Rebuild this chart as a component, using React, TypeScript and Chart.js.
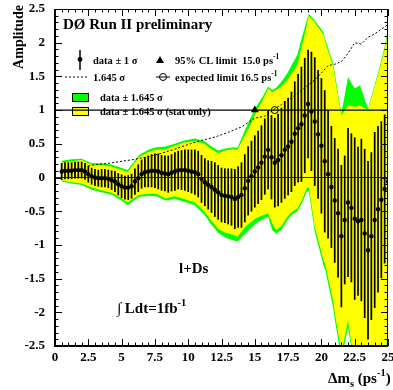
import React, { useEffect, useRef } from "react";
import { Chart, registerables } from "chart.js";

Chart.register(...registerables);

// ---- data ----
const dms = [0.5,0.75,1,1.25,1.5,1.75,2,2.25,2.5,2.75,3,3.25,3.5,3.75,4,4.25,4.5,4.75,5,5.25,5.5,5.75,6,6.25,6.5,6.75,7,7.25,7.5,7.75,8,8.25,8.5,8.75,9,9.25,9.5,9.75,10,10.25,10.5,10.75,11,11.25,11.5,11.75,12,12.25,12.5,12.75,13,13.25,13.5,13.75,14,14.25,14.5,14.75,15,15.25,15.5,15.75,16,16.25,16.5,16.75,17,17.25,17.5,17.75,18,18.25,18.5,18.75,19,19.25,19.5,19.75,20,20.25,20.5,20.75,21,21.25,21.5,21.75,22,22.25,22.5,22.75,23,23.25,23.5,23.75,24,24.25,24.5,24.75,25];

const amplitude = [0.09,0.10,0.10,0.10,0.11,0.11,0.11,0.09,0.05,0.02,
  0.00,-0.01,-0.01,-0.01,-0.02,-0.04,-0.06,-0.10,-0.13,-0.15,-0.15,-0.13,
  -0.06,-0.01,0.05,0.08,0.09,0.10,0.10,0.09,0.07,0.06,0.05,0.07,
  0.09,0.11,0.11,0.11,0.10,0.09,0.08,0.05,-0.02,-0.07,-0.11,-0.14,
  -0.18,-0.22,-0.26,-0.27,-0.28,-0.29,-0.32,-0.29,-0.26,-0.16,-0.05,0.02,
  0.09,0.15,0.22,0.31,0.41,0.30,0.22,0.26,0.33,0.41,0.46,0.53,
  0.65,0.73,0.79,0.92,1.09,0.98,0.83,0.64,0.47,0.24,0.05,-0.14,
  -0.34,-0.53,-0.87,-0.63,-0.37,-0.45,-0.61,-0.65,-0.63,-0.83,-1.08,-0.87,
  -0.63,-0.47,-0.33,-0.17,-0.06];

const sigma = [0.12,0.12,0.12,0.12,0.12,0.12,0.12,0.12,0.12,0.12,
  0.12,0.12,0.13,0.13,0.13,0.14,0.15,0.16,0.17,0.17,0.18,0.18,
  0.19,0.20,0.21,0.22,0.23,0.24,0.25,0.26,0.26,0.26,0.27,0.27,
  0.28,0.28,0.29,0.30,0.31,0.32,0.33,0.34,0.35,0.35,0.36,0.38,
  0.40,0.40,0.40,0.40,0.41,0.42,0.44,0.45,0.48,0.50,0.51,0.52,
  0.53,0.54,0.55,0.56,0.58,0.62,0.66,0.68,0.70,0.72,0.72,0.74,
  0.77,0.80,0.85,0.85,0.80,0.88,0.95,0.95,1.00,1.05,0.95,0.90,
  0.92,0.95,1.05,0.95,1.10,1.10,1.20,1.10,1.20,1.25,1.32,1.24,
  1.30,1.23,1.16,1.10,1.05];

const bandX = [0.5,1.25,2,2.75,3.5,4.3,5,5.45,6.3,7,7.6,8.3,9,9.7,10.5,11.2,11.75,12.25,12.8,13.35,13.7,14,14.3,14.6,15.1,15.6,16,16.3,16.6,17,17.45,17.8,18.2,18.55,18.9,19.05,19.5,20.15,20.3,20.9,21,21.5,22,22.5,22.9,23.5,24.35,24.75,25];
const yellowHi = [0.22,0.24,0.26,0.19,0.18,0.16,0.11,0.08,0.30,0.38,0.41,0.42,0.47,0.52,0.54,0.50,0.42,0.36,0.40,0.42,0.41,0.53,0.64,0.75,0.97,1.15,1.32,1.27,1.30,1.35,1.45,1.55,1.67,1.96,2.25,2.40,2.30,2.12,2.00,1.64,1.50,0.92,1.07,1.05,1.07,1.00,1.59,1.90,2.15];
const greenHi = [0.25,0.27,0.28,0.21,0.21,0.19,0.14,0.11,0.33,0.41,0.45,0.46,0.50,0.55,0.58,0.54,0.46,0.40,0.43,0.45,0.44,0.58,0.72,0.85,1.05,1.20,1.35,1.30,1.33,1.42,1.55,1.68,1.82,2.09,2.33,2.43,2.33,2.16,2.04,1.68,1.55,0.95,1.49,1.32,1.37,1.02,1.62,1.94,2.22];
const yellowLo = [-0.04,-0.07,-0.09,-0.15,-0.19,-0.23,-0.31,-0.37,-0.26,-0.24,-0.24,-0.31,-0.28,-0.32,-0.37,-0.50,-0.64,-0.76,-0.82,-0.85,-0.88,-0.80,-0.73,-0.68,-0.60,-0.56,-0.53,-0.68,-0.78,-0.72,-0.58,-0.51,-0.46,-0.33,-0.16,-0.14,-0.73,-1.22,-1.30,-1.85,-2.00,-2.60,-2.12,-2.80,-2.90,-2.90,-2.90,-2.70,-2.26];
const greenLo = [-0.06,-0.09,-0.11,-0.18,-0.22,-0.26,-0.34,-0.41,-0.29,-0.27,-0.28,-0.34,-0.32,-0.36,-0.41,-0.55,-0.70,-0.82,-0.89,-0.93,-0.95,-0.89,-0.83,-0.77,-0.68,-0.62,-0.58,-0.78,-0.83,-0.78,-0.63,-0.55,-0.50,-0.38,-0.21,-0.20,-0.80,-1.30,-1.38,-1.95,-2.10,-2.70,-2.22,-2.85,-2.95,-2.95,-2.95,-2.75,-2.30];

const sensX = [2.5,3,4,5,6,7,8,9,10,11,12,13,14,15,15.75,16.5,17,17.5,18,18.5,19,19.5,20,20.5,21,21.5,22,22.5,23,23.5,24,24.5,25];
const sensY = [0.17,0.19,0.21,0.24,0.27,0.31,0.36,0.42,0.49,0.55,0.60,0.67,0.75,0.88,0.91,1.02,1.08,1.15,1.22,1.29,1.37,1.45,1.55,1.66,1.68,1.72,1.84,2.00,1.98,2.08,2.13,2.20,2.27];

const limit95 = 15.0;
const expectedLimit = 16.5;
const limitAmplitude = 1;

const xTicks = [0, 2.5, 5, 7.5, 10, 12.5, 15, 17.5, 20, 22.5, 25];
const xTickLabels = ["0", "2.5", "5", "7.5", "10", "12.5", "15", "17.5", "20", "22.5", "25"];
const yTicks = [2.5, 2, 1.5, 1, 0.5, 0, -0.5, -1, -1.5, -2, -2.5];
const yTickLabels = ["2.5", "2", "1.5", "1", "0.5", "0", "-0.5", "-1", "-1.5", "-2", "-2.5"];

const X_MIN = 0, X_MAX = 25, Y_MIN = -2.5, Y_MAX = 2.5;

const SERIF = "'Liberation Serif', 'Times New Roman', serif";
const GREEN = "#00ff00";
const YELLOW = "#ffff00";

type Part = [string, "n" | "sup" | "sub"];

function rich(ctx: CanvasRenderingContext2D, x: number, y: number, parts: Part[], size: number) {
  let cx = x;
  ctx.textAlign = "left";
  ctx.textBaseline = "alphabetic";
  for (const [t, k] of parts) {
    const s = k === "n" ? size : size * 0.7;
    ctx.font = `bold ${s}px ${SERIF}`;
    const dy = k === "sup" ? -size * 0.45 : k === "sub" ? size * 0.25 : 0;
    ctx.fillText(t, cx, y + dy);
    cx += ctx.measureText(t).width;
  }
}

const decor = {
  id: "decor",
  beforeDatasetsDraw(chart: any) {
    const ctx: CanvasRenderingContext2D = chart.ctx;
    ctx.save();
    ctx.fillStyle = "#000";
    ctx.strokeStyle = "#000";
    rich(ctx, 63, 29, [["D\u00D8 Run II preliminary", "n"]], 15);
    ctx.lineWidth = 1.5;
    ctx.beginPath(); ctx.moveTo(80, 50); ctx.lineTo(80, 70); ctx.stroke();
    ctx.beginPath(); ctx.arc(80, 59.5, 2.4, 0, Math.PI * 2); ctx.fill();
    rich(ctx, 93, 63.5, [["data \u00B1 1 \u03C3", "n"]], 10.5);
    ctx.lineWidth = 1;
    ctx.setLineDash([2, 2]);
    ctx.beginPath(); ctx.moveTo(65, 77); ctx.lineTo(88, 77); ctx.stroke();
    ctx.setLineDash([]);
    rich(ctx, 93, 80.5, [["1.645 \u03C3", "n"]], 10.5);
    ctx.beginPath(); ctx.moveTo(160, 56); ctx.lineTo(164, 63); ctx.lineTo(156, 63); ctx.closePath(); ctx.fill();
    rich(ctx, 175, 63.5, [["95% CL limit  15.0 ps", "n"], ["-1", "sup"]], 10.5);
    ctx.beginPath(); ctx.moveTo(156, 77); ctx.lineTo(170, 77); ctx.stroke();
    ctx.beginPath(); ctx.arc(163, 77, 3.5, 0, Math.PI * 2); ctx.stroke();
    rich(ctx, 175, 80.5, [["expected limit 16.5 ps", "n"], ["-1", "sup"]], 10.5);
    ctx.fillStyle = GREEN;
    ctx.fillRect(72, 93, 16, 8);
    ctx.strokeRect(72.5, 93.5, 16, 8);
    ctx.fillStyle = YELLOW;
    ctx.fillRect(72, 107, 16, 8);
    ctx.strokeRect(72.5, 107.5, 16, 8);
    ctx.fillStyle = "#000";
    rich(ctx, 100, 100.5, [["data \u00B1 1.645 \u03C3", "n"]], 10.5);
    rich(ctx, 100, 114.5, [["data \u00B1 1.645 \u03C3 (stat only)", "n"]], 10.5);
    rich(ctx, 179, 273, [["l+Ds", "n"]], 15);
    rich(ctx, 117, 313, [["\u222B Ldt=1fb", "n"], ["-1", "sup"]], 15);
    ctx.restore();
  },
  afterDatasetsDraw(chart: any) {
    const ctx: CanvasRenderingContext2D = chart.ctx;
    const xs = chart.scales.x, ys = chart.scales.y;
    const ca = chart.chartArea;
    ctx.save();
    ctx.strokeStyle = "#000";
    ctx.fillStyle = "#000";
    ctx.lineWidth = 1;
    for (let i = 0; i <= 50; i++) {
      const v = X_MIN + i * 0.5;
      const major = i % 5 === 0;
      const px = Math.round(xs.getPixelForValue(v)) + 0.5;
      const len = major ? 7 : 3.5;
      ctx.beginPath();
      ctx.moveTo(px, ca.bottom); ctx.lineTo(px, ca.bottom - len);
      ctx.moveTo(px, ca.top); ctx.lineTo(px, ca.top + len);
      ctx.stroke();
    }
    for (let i = 0; i <= 50; i++) {
      const v = Y_MIN + i * 0.1;
      const major = i % 5 === 0;
      const py = Math.round(ys.getPixelForValue(v)) + 0.5;
      const len = major ? 7 : 3.5;
      ctx.beginPath();
      ctx.moveTo(ca.left, py); ctx.lineTo(ca.left + len, py);
      ctx.moveTo(ca.right, py); ctx.lineTo(ca.right - len, py);
      ctx.stroke();
    }
    ctx.lineWidth = 1;
    ctx.strokeRect(ca.left + 0.5, ca.top + 0.5, ca.right - ca.left - 1, ca.bottom - ca.top);
    ctx.lineWidth = 2;
    ctx.beginPath();
    ctx.moveTo(ca.left, ca.top); ctx.lineTo(ca.left, ca.bottom); ctx.lineTo(ca.right, ca.bottom);
    ctx.stroke();
    ctx.font = `bold 13px ${SERIF}`;
    ctx.textAlign = "center";
    ctx.textBaseline = "middle";
    xTicks.forEach((v, i) => ctx.fillText(xTickLabels[i], xs.getPixelForValue(v), ca.bottom + 12));
    ctx.textAlign = "right";
    yTicks.forEach((v, i) => ctx.fillText(yTickLabels[i], ca.left - 10, ys.getPixelForValue(v)));
    ctx.save();
    ctx.translate(23, 37);
    ctx.rotate(-Math.PI / 2);
    ctx.font = `bold 14px ${SERIF}`;
    ctx.textAlign = "center";
    ctx.textBaseline = "alphabetic";
    ctx.fillText("Amplitude", 0, 0);
    ctx.restore();
    rich(ctx, 328, 383, [["\u0394m", "n"], ["s", "sub"], [" (ps", "n"], ["-1", "sup"], [")", "n"]], 15);
    ctx.restore();
  },
};

const pts = (xv: number[], yv: number[]) => xv.map((x, i) => ({ x, y: yv[i] }));

export default function App() {
  const ref = useRef<HTMLCanvasElement | null>(null);
  useEffect(() => {
    document.body.style.margin = "0";
    const canvas = ref.current!;
    const chart = new Chart(canvas, {
      type: "line",
      data: {
        datasets: [
          { type: "line", data: [{ x: X_MIN, y: limitAmplitude }, { x: X_MAX, y: limitAmplitude }], borderColor: "#000", borderWidth: 1.2, pointRadius: 0, order: 0 } as any,
          { type: "line", data: [{ x: limit95, y: limitAmplitude }], showLine: false, pointStyle: "triangle", pointRadius: 4.5, backgroundColor: "#000", borderColor: "#000", borderWidth: 0, order: 1 } as any,
          { type: "line", data: [{ x: expectedLimit, y: limitAmplitude }], showLine: false, pointStyle: "circle", pointRadius: 3.5, backgroundColor: "rgba(0,0,0,0)", borderColor: "#000", borderWidth: 1, order: 1 } as any,
          { type: "line", data: pts(dms, amplitude), showLine: false, pointRadius: 2.2, backgroundColor: "#000", borderColor: "#000", borderWidth: 0, order: 2 } as any,
          { type: "line", data: pts(sensX, sensY), borderColor: "#000", borderWidth: 1, borderDash: [2, 2], pointRadius: 0, order: 3 } as any,
          { type: "bar", data: dms.map((x, i) => ({ x, y: [amplitude[i] - sigma[i], amplitude[i] + sigma[i]] })), backgroundColor: "#000", borderWidth: 0, barThickness: 1.05, grouped: false, order: 5 } as any,
          { type: "line", data: [{ x: X_MIN, y: 0 }, { x: X_MAX, y: 0 }], borderColor: "rgba(0,0,0,0.8)", borderWidth: 1.2, pointRadius: 0, order: 8 } as any,
          { type: "line", data: pts(bandX, yellowHi), borderWidth: 0, pointRadius: 0, fill: "+1", backgroundColor: YELLOW, order: 9 } as any,
          { type: "line", data: pts(bandX, yellowLo), borderWidth: 0, pointRadius: 0, fill: false, order: 9 } as any,
          { type: "line", data: pts(bandX, greenHi), borderWidth: 0, pointRadius: 0, fill: "+1", backgroundColor: GREEN, order: 10 } as any,
          { type: "line", data: pts(bandX, greenLo), borderWidth: 0, pointRadius: 0, fill: false, order: 10 } as any,
        ],
      },
      options: {
        animation: false,
        responsive: false,
        maintainAspectRatio: false,
        events: [],
        layout: { padding: { left: 55, right: 1, top: 9, bottom: 44 } },
        plugins: { legend: { display: false }, tooltip: { enabled: false } },
        scales: {
          x: { type: "linear", min: X_MIN, max: X_MAX, display: false, offset: false },
          y: { type: "linear", min: Y_MIN, max: Y_MAX, display: false },
        },
      } as any,
      plugins: [decor],
    });
    return () => chart.destroy();
  }, []);
  return (
    <div style={{ position: "fixed", left: 0, top: 0, width: 393, height: 390, background: "#fff" }}>
      <canvas ref={ref} width={393} height={390} style={{ width: 393, height: 390 }} />
    </div>
  );
}
